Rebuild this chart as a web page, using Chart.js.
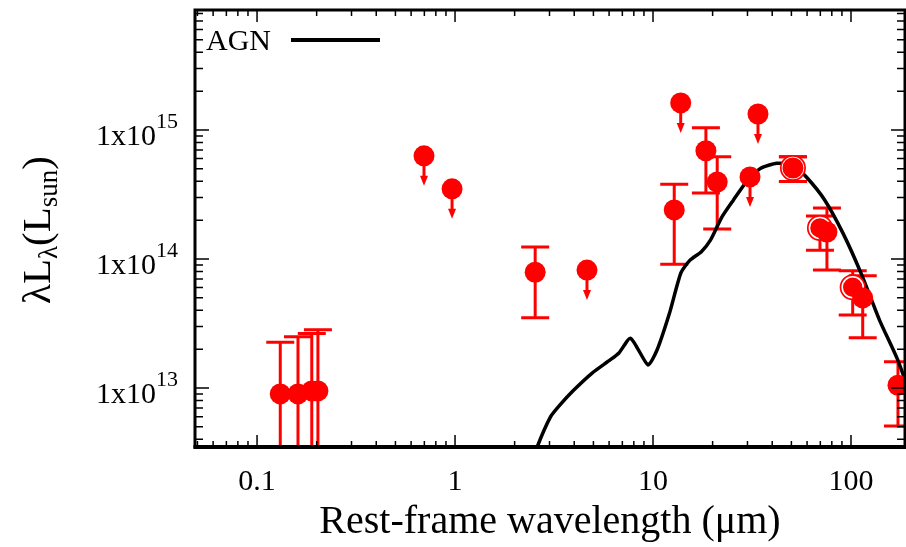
<!DOCTYPE html>
<html>
<head>
<meta charset="utf-8">
<script src="https://cdn.jsdelivr.net/npm/chart.js@4.4.1/dist/chart.umd.min.js"></script>
<style>
html, body { margin: 0; padding: 0; background: #fff; }
#wrap { width: 906px; height: 547px; }
</style>
</head>
<body>
<div id="wrap"><canvas id="sed" width="906" height="547"></canvas></div>
<script>
// AGN template curve (wavelength in um, luminosity in Lsun)
const agnX = [2.39, 2.6, 3.04, 3.39, 3.97, 4.91, 6.07, 6.73, 7.71, 9.43, 10.48, 12.12, 13.83, 15.38, 17.55, 19.5, 22.3, 25.5, 29.8, 35.0, 42.2, 50.8, 59.5, 73.6, 91.2, 112.6, 139.3, 172.2, 203];
const agnY = [2.3e12, 3.49e12, 6.0e12, 7.4e12, 9.6e12, 1.30e13, 1.65e13, 1.87e13, 2.43e13, 1.51e13, 1.97e13, 3.81e13, 7.8e13, 9.8e13, 1.14e14, 1.40e14, 2.12e14, 2.87e14, 4.02e14, 5.05e14, 5.52e14, 5.35e14, 4.32e14, 2.87e14, 1.58e14, 7.7e13, 3.36e13, 1.65e13, 8.1e12];

// detections with error bars
const detX  = [0.131, 0.161, 0.189, 0.203, 2.54, 12.8, 18.5, 21.1, 50.9, 75.6, 114.6, 172.7];
const detY  = [9.0e12, 9.0e12, 9.5e12, 9.5e12, 7.9e13, 2.4e14, 6.9e14, 3.95e14, 5.07e14, 1.62e14, 4.99e13, 1.05e13];
const detHi = [2.26e13, 2.5e13, 2.64e13, 2.83e13, 1.24e14, 3.8e14, 1.04e15, 6.2e14, 6.2e14, 2.48e14, 7.4e13, 1.6e13];
const detLo = [1e12, 1e12, 1e12, 1e12, 3.5e13, 9.1e13, 3.25e14, 1.71e14, 3.98e14, 8.2e13, 2.45e13, 5.07e12];

// open circles (other photometry)
const openX  = [50.9, 69.7, 102];
const openY  = [5.07e14, 1.74e14, 6.04e13];
const openHi = [6.2e14, 2.15e14, 8.1e13];
const openLo = [3.98e14, 1.17e14, 3.68e13];

// upper limits
const ulX = [0.697, 0.966, 4.64, 13.8, 30.9, 33.9];
const ulY = [6.3e14, 3.5e14, 8.2e13, 1.62e15, 4.33e14, 1.33e15];

// axis ticks
const xTickVals = [0.1, 1, 10, 100];
const xTickText = ['0.1', '1', '10', '100'];
const yTickVals = [1e13, 1e14, 1e15];
const yTickExp  = ['13', '14', '15'];

const RED = '#ff0000';
const SERIF = '"Liberation Serif", "DejaVu Serif", serif';

function pts(xs, ys) { return xs.map((x, i) => ({ x: x, y: ys[i] })); }

// draw a row of text pieces (font size, vertical shift)
function runs(ctx, parts, x, y, align) {
  let w = 0;
  parts.forEach(p => { ctx.font = p.s + 'px ' + SERIF; w += ctx.measureText(p.t).width; });
  let cx = align === 'center' ? x - w / 2 : align === 'right' ? x - w : x;
  ctx.textAlign = 'left';
  ctx.textBaseline = 'alphabetic';
  parts.forEach(p => {
    ctx.font = p.s + 'px ' + SERIF;
    ctx.fillText(p.t, cx, y + (p.dy || 0));
    cx += ctx.measureText(p.t).width;
  });
}

const extras = {
  id: 'extras',
  beforeDatasetsDraw(chart) {
    const { ctx, chartArea: a, scales: { x, y } } = chart;
    ctx.save();
    ctx.beginPath();
    ctx.rect(a.left, a.top, a.right - a.left, a.bottom - a.top);
    ctx.clip();
    ctx.strokeStyle = RED;
    ctx.lineWidth = 3;
    const bar = (xv, lo, hi) => {
      const px = x.getPixelForValue(xv);
      const p1 = y.getPixelForValue(hi), p2 = y.getPixelForValue(lo);
      ctx.beginPath();
      ctx.moveTo(px, p1); ctx.lineTo(px, p2);
      ctx.moveTo(px - 14, p1); ctx.lineTo(px + 14, p1);
      ctx.moveTo(px - 14, p2); ctx.lineTo(px + 14, p2);
      ctx.stroke();
    };
    detX.forEach((v, i) => bar(v, detLo[i], detHi[i]));
    openX.forEach((v, i) => bar(v, openLo[i], openHi[i]));

    // arrows for upper limits
    ctx.fillStyle = RED;
    ctx.lineWidth = 3;
    ulX.forEach((v, i) => {
      const px = x.getPixelForValue(v), py = y.getPixelForValue(ulY[i]);
      ctx.beginPath(); ctx.moveTo(px, py); ctx.lineTo(px, py + 22); ctx.stroke();
      ctx.beginPath();
      ctx.moveTo(px - 4, py + 20); ctx.lineTo(px + 4, py + 20); ctx.lineTo(px, py + 30);
      ctx.closePath(); ctx.fill();
    });
    ctx.restore();
  },
  afterDraw(chart) {
    const { ctx, chartArea: a, scales: { x, y } } = chart;
    ctx.save();
    ctx.strokeStyle = '#000';
    ctx.fillStyle = '#000';

    // inside ticks on all sides
    ctx.lineWidth = 1.5;
    ctx.beginPath();
    for (let d = -2; d <= 2; d++) {
      for (let m = 1; m <= 9; m++) {
        const v = m * Math.pow(10, d);
        if (v < x.min || v > x.max) continue;
        const px = x.getPixelForValue(v), len = m === 1 ? 12 : 6;
        ctx.moveTo(px, a.bottom); ctx.lineTo(px, a.bottom - len);
        ctx.moveTo(px, a.top); ctx.lineTo(px, a.top + len);
      }
    }
    for (let d = 12; d <= 15; d++) {
      for (let m = 1; m <= 9; m++) {
        const v = m * Math.pow(10, d);
        if (v < y.min || v > y.max) continue;
        const py = y.getPixelForValue(v), len = m === 1 ? 14 : 8;
        ctx.moveTo(a.left, py); ctx.lineTo(a.left + len, py);
        ctx.moveTo(a.right, py); ctx.lineTo(a.right - len, py);
      }
    }
    ctx.stroke();

    // frame
    ctx.lineWidth = 3;
    ctx.strokeRect(a.left, a.top, a.right - a.left, a.bottom - a.top);
    ctx.lineWidth = 4;
    ctx.beginPath(); ctx.moveTo(a.left - 1.5, a.bottom); ctx.lineTo(a.right + 1.5, a.bottom); ctx.stroke();

    // tick labels
    xTickVals.forEach((v, i) => {
      runs(ctx, [{ t: xTickText[i], s: 30 }], x.getPixelForValue(v), 490, 'center');
    });
    yTickVals.forEach((v, i) => {
      const py = y.getPixelForValue(v);
      runs(ctx, [{ t: '1x10', s: 30 }, { t: yTickExp[i], s: 22, dy: -17 }], 178, py + 15, 'right');
    });

    // axis titles
    runs(ctx, [{ t: 'Rest-frame wavelength (\u03bcm)', s: 40 }], 550, 533, 'center');
    ctx.save();
    ctx.translate(50, 230);
    ctx.rotate(-Math.PI / 2);
    runs(ctx, [
      { t: '\u03bbL', s: 41 }, { t: '\u03bb', s: 27, dy: 7 },
      { t: '(L', s: 41 }, { t: 'sun', s: 27, dy: 7 }, { t: ')', s: 41 }
    ], 0, 0, 'center');
    ctx.restore();

    // legend
    runs(ctx, [{ t: 'AGN', s: 30 }], 206, 50, 'left');
    ctx.lineWidth = 4;
    ctx.beginPath(); ctx.moveTo(291, 40); ctx.lineTo(380, 40); ctx.stroke();
    ctx.restore();
  }
};

new Chart(document.getElementById('sed'), {
  type: 'scatter',
  data: {
    datasets: [
      { data: pts(detX, detY), pointRadius: 10.5, pointBorderWidth: 0, backgroundColor: RED, order: 1 },
      { data: pts(ulX, ulY), pointRadius: 10.5, pointBorderWidth: 0, backgroundColor: RED, order: 1 },
      { data: pts(openX, openY), pointRadius: 10.5, pointBorderWidth: 1.6, borderColor: '#fff', backgroundColor: RED, order: 2 },
      { data: pts(openX, openY), pointRadius: 13, pointBorderWidth: 0, backgroundColor: RED, order: 3 },
      { type: 'line', data: pts(agnX, agnY), borderColor: '#000', borderWidth: 3.5, pointRadius: 0, tension: 0.2, fill: false, order: 4 }
    ]
  },
  options: {
    responsive: false,
    animation: false,
    events: [],
    layout: { autoPadding: false, padding: { top: 10, right: 1, left: 0, bottom: 0 } },
    plugins: { legend: { display: false }, tooltip: { enabled: false } },
    scales: {
      x: {
        type: 'logarithmic', min: 0.0486, max: 187.4,
        grid: { display: false }, border: { display: false }, ticks: { display: false },
        afterFit(s) { s.height = 100; }
      },
      y: {
        type: 'logarithmic', min: 3.49e12, max: 8.51e15,
        grid: { display: false }, border: { display: false }, ticks: { display: false },
        afterFit(s) { s.width = 195; }
      }
    }
  },
  plugins: [extras]
});
</script>
</body>
</html>
